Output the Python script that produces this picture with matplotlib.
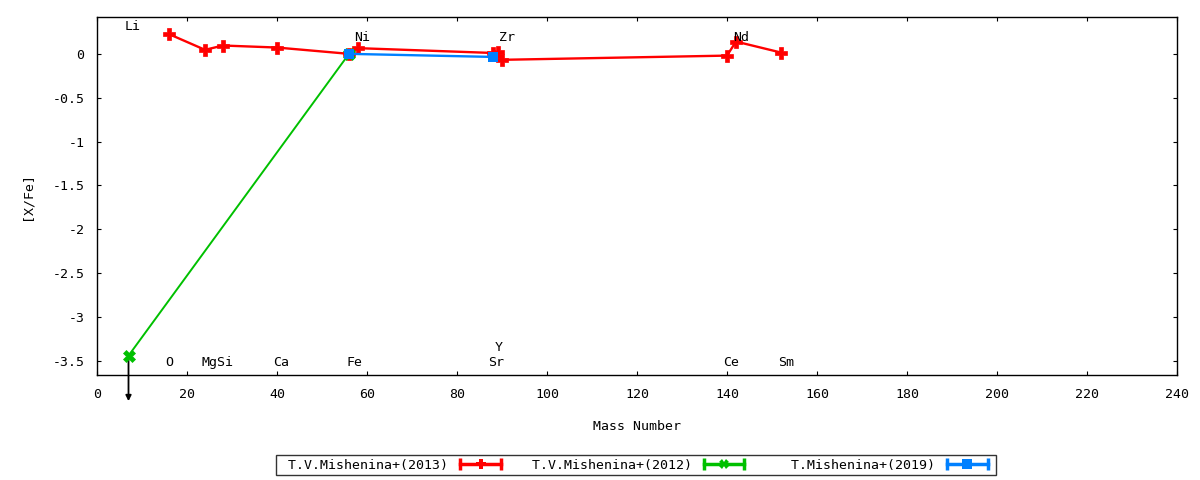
import matplotlib
matplotlib.use('Agg')
import matplotlib.pyplot as plt
from matplotlib.lines import Line2D
from matplotlib.legend_handler import HandlerLine2D, HandlerTuple
from matplotlib.ticker import FuncFormatter, MultipleLocator

plt.rcParams['font.family'] = ['DejaVu Sans Mono']
plt.rcParams['font.size'] = 9.5

# datos
mass_2013 = [16, 24, 28, 40, 56, 58, 88, 89, 90, 140, 142, 152]
xfe_2013 = [0.225, 0.046, 0.095, 0.072, 0.0, 0.065, 0.01, 0.018, -0.068, -0.02, 0.14, 0.015]

mass_2012 = [7, 56]
xfe_2012 = [-3.44, 0.0]

mass_2019 = [56, 88]
xfe_2019 = [0.0, -0.035]

# nombre del elemento y donde va el texto
elem_names = ['Li', 'Ni', 'Zr', 'Nd', 'O', 'MgSi', 'Ca', 'Fe', 'Y', 'Sr', 'Ce', 'Sm']
elem_x = [8, 59, 91, 143.2, 16, 26.7, 41, 57.2, 89.3, 88.8, 141, 153.2]
elem_y = [0.31, 0.19, 0.19, 0.19, -3.52, -3.52, -3.52, -3.52, -3.35, -3.52, -3.52, -3.52]

labels = [' T.V.Mishenina+(2013)', ' T.V.Mishenina+(2012)', '   T.Mishenina+(2019)']
colors = ['#ff0000', '#00c000', '#0080ff']

fig = plt.figure(figsize=(12, 4.8), dpi=100)
ax = fig.add_axes([97/1200, 105/480, 1080/1200, 358/480])

ax.plot(mass_2013, xfe_2013, color=colors[0], lw=1.7, marker='P', ms=8, mew=0.5, zorder=3)
ax.plot(mass_2012, xfe_2012, color=colors[1], lw=1.4, marker='X', ms=8, mew=0.5, zorder=3)
ax.plot(mass_2019, xfe_2019, color=colors[2], lw=1.7, marker='s', ms=7.5, mew=0, zorder=4)

# limite superior para Li
ax.annotate('', xy=(mass_2012[0], xfe_2012[0] - 0.55), xytext=(mass_2012[0], xfe_2012[0]),
            arrowprops=dict(arrowstyle='-|>', color='black', lw=1.3, mutation_scale=8),
            annotation_clip=False, zorder=2)

for name, x, y in zip(elem_names, elem_x, elem_y):
    ax.text(x, y, name, ha='center', va='center')

ax.set_xlim(0, 240)
ax.set_ylim(-3.66, 0.42)
ax.xaxis.set_major_locator(MultipleLocator(20))
ax.yaxis.set_major_locator(MultipleLocator(0.5))
ax.yaxis.set_major_formatter(FuncFormatter(lambda v, p: '%g' % v))
ax.tick_params(direction='in', length=3, width=0.8, top=True, right=True, pad=9)
for s in ax.spines.values():
    s.set_linewidth(1.0)

ax.set_xlabel('Mass Number', labelpad=14)
ax.set_ylabel('[X/Fe]', labelpad=14)

# leyenda estilo gnuplot: linea con topes y marcador en el centro
handles = []
hmap = {}
for c, m in zip(colors, ['P', 'X', 's']):
    caps = Line2D([], [], color=c, lw=2.5, marker='|', ms=8, mew=2.5)
    mid = Line2D([], [], color=c, ls='none', marker=m, ms=7, mew=0)
    hmap[caps] = HandlerLine2D(numpoints=2)
    hmap[mid] = HandlerLine2D(numpoints=1)
    handles.append((caps, mid))
hmap[tuple] = HandlerTuple(ndivide=1)

leg = fig.legend(handles, labels, handler_map=hmap, loc='center', bbox_to_anchor=(636/1200, 15/480),
                 ncol=3, markerfirst=False, frameon=True, fancybox=False, handlelength=3.7,
                 handletextpad=0.6, columnspacing=1.4, borderpad=0.3, borderaxespad=0)
leg.get_frame().set_edgecolor('black')
leg.get_frame().set_linewidth(1.0)

fig.savefig('out.png', dpi=100)
